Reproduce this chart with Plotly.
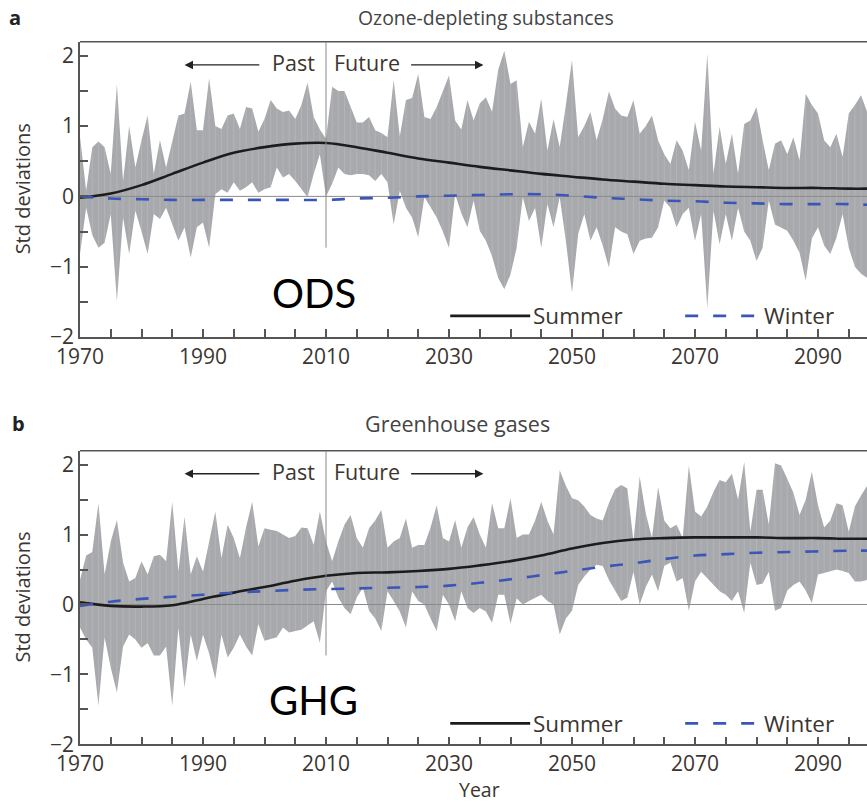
import plotly.graph_objects as go

# ---------------- data ----------------
years = list(range(1970, 2099))

ods_upper = [0.85, 0.08, 0.7, 0.78, 0.7, 0.32, 1.6, 0.22, 1.0, 0.41,
             0.8, 1.15, 0.32, 0.8, 0.41, 0.8, 1.15, 1.18, 1.63, 0.94,
             0.94, 1.68, 1.0, 0.96, 1.15, 1.18, 0.96, 1.27, 1.25, 0.92,
             1.1, 1.37, 1.25, 1.2, 1.22, 1.1, 1.3, 1.62, 1.13, 0.95,
             0.82, 1.56, 1.5, 1.5, 1.28, 1.05, 1.05, 1.13, 0.94, 0.9,
             0.84, 1.66, 0.85, 1.37, 1.4, 1.74, 1.13, 1.1, 1.27, 1.5,
             1.72, 1.08, 0.95, 1.37, 1.08, 1.32, 1.41, 1.2, 1.8, 2.07,
             1.6, 1.65, 0.7, 1.06, 0.89, 1.39, 0.65, 1.1, 0.7, 1.3,
             1.94, 0.84, 1.0, 1.2, 0.8, 1.1, 1.49, 1.25, 1.15, 1.13,
             1.37, 0.89, 1.0, 1.15, 0.8, 0.6, 0.46, 0.8, 0.65, 0.37,
             1.06, 0.65, 2.03, 0.32, 0.99, 0.46, 0.89, 0.32, 1.03, 1.08,
             1.27, 0.8, 0.37, 0.75, 0.8, 0.6, 0.84, 0.51, 1.46, 1.3,
             1.18, 0.8, 0.7, 0.89, 0.56, 1.18, 1.3, 1.44, 1.2]
ods_lower = [-0.82, -0.16, -0.55, -0.73, -0.66, -0.25, -1.49, -0.3, -0.82, -0.2,
             -0.5, -0.82, -0.25, -0.32, -0.16, -0.4, -0.63, -0.44, -0.87, -0.44,
             -0.37, -0.73, 0.03, 0.1, 0.05, 0.2, 0.08, 0.13, 0.2, 0.05,
             0.1, 0.13, 0.41, 0.27, 0.32, 0.22, 0.1, -0.01, 0.32, 0.6,
             0.0, 0.18, 0.41, 0.32, 0.3, 0.32, 0.32, 0.3, 0.22, 0.32,
             0.2, -0.4, 0.08, -0.16, -0.3, -0.58, -0.01, -0.16, -0.3, -0.5,
             -0.73, 0.03, -0.24, -0.44, -0.06, -0.49, -0.63, -0.85, -1.16, -1.32,
             -1.11, -0.73, -0.01, -0.35, -0.16, -0.73, -0.11, -0.44, -0.01, -0.63,
             -1.37, -0.54, -0.25, -0.63, -0.44, -0.7, -1.01, -0.44, -0.5, -0.54,
             -0.82, -0.63, -0.6, -0.59, -0.44, -0.06, -0.16, -0.44, -0.25, -0.16,
             -0.63, -0.25, -1.59, -0.2, -0.68, -0.25, -0.63, -0.16, -0.5, -0.63,
             -0.92, -0.73, -0.06, -0.4, -0.44, -0.49, -0.63, -0.8, -1.2, -0.6,
             -0.44, -0.7, -0.82, -0.59, -0.25, -0.73, -1.0, -1.1, -1.16]

ghg_upper = [0.35, 0.7, 0.75, 1.45, 0.43, 0.9, 1.21, 0.6, 0.33, 0.38,
             0.62, 0.43, 0.69, 0.71, 0.62, 1.47, 0.47, 1.26, 0.43, 0.69,
             0.47, 0.9, 1.33, 0.66, 1.14, 0.95, 0.66, 1.1, 1.47, 0.83,
             1.09, 1.07, 1.05, 1.0, 0.95, 0.98, 1.1, 1.09, 0.85, 1.33,
             0.9, 0.62, 0.9, 1.14, 1.28, 0.95, 0.81, 1.09, 1.2, 1.35,
             0.81, 0.9, 0.95, 1.23, 0.81, 0.85, 0.85, 1.1, 1.42, 0.95,
             0.9, 1.21, 0.81, 1.1, 1.25, 1.0, 0.81, 1.45, 1.09, 1.09,
             1.52, 0.95, 1.0, 1.0, 1.2, 1.47, 1.2, 1.0, 1.92, 1.7,
             1.52, 1.49, 1.4, 1.28, 1.23, 1.2, 1.45, 1.65, 1.71, 1.66,
             0.9, 1.83, 1.3, 0.95, 1.68, 1.2, 1.09, 1.14, 0.95, 1.99,
             1.33, 1.26, 1.4, 1.61, 1.78, 1.75, 1.87, 1.5, 2.04, 1.04,
             1.64, 1.64, 1.14, 2.02, 1.99, 1.8, 1.6, 1.28, 1.5, 1.9,
             1.42, 1.1, 1.2, 1.45, 1.42, 1.04, 1.4, 1.56, 1.7]
ghg_lower = [-0.33, -0.5, -0.62, -1.45, -0.47, -0.9, -1.26, -0.6, -0.43, -0.5,
             -0.62, -0.55, -0.73, -0.73, -0.6, -1.45, -0.33, -1.19, -0.43, -0.81,
             -0.43, -0.7, -1.07, -0.43, -0.76, -0.62, -0.43, -0.6, -0.73, -0.28,
             -0.52, -0.5, -0.47, -0.33, -0.4, -0.38, -0.36, -0.3, -0.24, -0.55,
             0.19, 0.33, 0.1, -0.05, -0.14, 0.1, 0.24, -0.09, -0.2, -0.38,
             0.19, 0.05, -0.1, -0.33, 0.19, 0.05, 0.0, -0.2, -0.38, 0.14,
             0.0, -0.24, 0.19, -0.05, -0.12, -0.05, -0.1, -0.26, 0.14, 0.14,
             -0.28, 0.09, 0.0, 0.05, 0.1, 0.14, 0.05, 0.0, -0.43, -0.2,
             -0.09, 0.28, 0.4, 0.5, 0.57, 0.55, 0.35, 0.19, 0.05, 0.1,
             0.47, 0.0, 0.25, 0.43, 0.19, 0.55, 0.6, 0.33, 0.38, -0.09,
             0.33, 0.47, 0.38, 0.28, 0.19, 0.14, 0.05, 0.19, -0.12, 0.6,
             0.28, 0.3, 0.47, -0.09, -0.05, 0.2, 0.28, 0.33, 0.2, 0.02,
             0.43, 0.45, 0.48, 0.5, 0.48, 0.45, 0.33, 0.33, 0.35]

mean_years = [1970, 1975, 1980, 1985, 1990, 1995, 2000, 2005, 2010, 2015, 2020,
              2025, 2030, 2035, 2040, 2045, 2050, 2055, 2060, 2065, 2070, 2075,
              2080, 2085, 2090, 2095, 2098]
ods_summer = [-0.02, 0.04, 0.16, 0.32, 0.48, 0.62, 0.70, 0.75, 0.76, 0.70, 0.62,
              0.54, 0.48, 0.42, 0.37, 0.32, 0.28, 0.24, 0.21, 0.18, 0.16, 0.14,
              0.13, 0.12, 0.12, 0.11, 0.11]
ods_winter = [0.0, -0.03, -0.04, -0.05, -0.05, -0.05, -0.05, -0.05, -0.05, -0.03, -0.02,
              0.0, 0.01, 0.02, 0.03, 0.03, 0.01, -0.02, -0.04, -0.06, -0.07, -0.09,
              -0.1, -0.11, -0.11, -0.11, -0.12]
ghg_summer = [0.03, -0.02, -0.03, -0.01, 0.08, 0.17, 0.25, 0.34, 0.41, 0.45, 0.46,
              0.48, 0.51, 0.56, 0.62, 0.70, 0.80, 0.88, 0.93, 0.95, 0.96, 0.96,
              0.96, 0.95, 0.95, 0.94, 0.94]
ghg_winter = [-0.02, 0.04, 0.08, 0.11, 0.14, 0.17, 0.19, 0.21, 0.22, 0.23, 0.24,
              0.25, 0.27, 0.31, 0.36, 0.42, 0.48, 0.54, 0.59, 0.65, 0.70, 0.72,
              0.74, 0.75, 0.76, 0.77, 0.77]

panels = [
    dict(title="Ozone-depleting substances", letter="a", label="ODS",
         upper=ods_upper, lower=ods_lower, summer=ods_summer, winter=ods_winter),
    dict(title="Greenhouse gases", letter="b", label="GHG",
         upper=ghg_upper, lower=ghg_lower, summer=ghg_summer, winter=ghg_winter),
]

x_ticks = list(range(1970, 2100, 5))
x_labels = [str(v) if (v - 1970) % 20 == 0 else "" for v in x_ticks]
y_ticks = [-2, -1.5, -1, -0.5, 0, 0.5, 1, 1.5, 2]
y_labels = ["\u22122", "", "\u22121", "", "0", "", "1", "", "2"]

# ---------------- styling ----------------
W, H = 867, 804
BAND = "#a8a9ac"
AXC = "#555555"
TXT = "#3b3630"
FONT = "Open Sans"
XR = [1970, 1970 + 787 / 6.15]
YR = [-2, 2.2]
domains_y = [(1 - 337 / H, 1 - 41.7 / H), (1 - 744.3 / H, 1 - 450.7 / H)]
x_left = 80 / W

fig = go.Figure()
shapes, annotations = [], []

for i, p in enumerate(panels):
    xa = "x" if i == 0 else "x2"
    ya = "y" if i == 0 else "y2"
    # band
    fig.add_trace(go.Scatter(x=years, y=p["lower"], xaxis=xa, yaxis=ya, mode="lines",
                             line=dict(width=0, color=BAND), hoverinfo="skip", showlegend=False))
    fig.add_trace(go.Scatter(x=years, y=p["upper"], xaxis=xa, yaxis=ya, mode="lines",
                             line=dict(width=0, color=BAND), fill="tonexty", fillcolor=BAND,
                             hoverinfo="skip", showlegend=False))
    # faint white striping inside the band
    sx, sy = [], []
    for yr, lo, hi in zip(years, p["lower"], p["upper"]):
        sx += [yr, yr, None]
        sy += [lo, hi, None]
    fig.add_trace(go.Scatter(x=sx, y=sy, xaxis=xa, yaxis=ya, mode="lines",
                             line=dict(width=1, color="rgba(255,255,255,0.14)"),
                             hoverinfo="skip", showlegend=False))
    # zero line
    fig.add_trace(go.Scatter(x=[years[0], years[-1]], y=[0, 0], xaxis=xa, yaxis=ya, mode="lines",
                             line=dict(width=1, color="#8a8a8a"), hoverinfo="skip", showlegend=False))
    # means
    fig.add_trace(go.Scatter(x=mean_years, y=p["summer"], xaxis=xa, yaxis=ya, mode="lines",
                             line=dict(width=2.6, color="#1c1c1c", shape="spline", smoothing=1.0),
                             name="Summer", showlegend=False))
    fig.add_trace(go.Scatter(x=mean_years, y=p["winter"], xaxis=xa, yaxis=ya, mode="lines",
                             line=dict(width=2.6, color="#3a56b8", dash="13px,15px",
                                       shape="spline", smoothing=1.0),
                             name="Winter", showlegend=False))

    y0, y1 = domains_y[i]
    # top border
    shapes.append(dict(type="line", xref="paper", yref="paper", x0=x_left, x1=1.0,
                       y0=y1, y1=y1, line=dict(color=AXC, width=1.5)))
    # past/future divider
    shapes.append(dict(type="line", xref=xa, yref=ya, x0=2010, x1=2010, y0=-0.73, y1=YR[1],
                       line=dict(color="#8a8a8a", width=1), layer="above"))
    # legend samples
    shapes.append(dict(type="line", xref=xa, yref=ya, x0=2030.2, x1=2043.2, y0=-1.7, y1=-1.7,
                       line=dict(color="#1c1c1c", width=2.6)))
    shapes.append(dict(type="line", xref=xa, yref=ya, x0=2068.4, x1=2080.1, y0=-1.7, y1=-1.7,
                       line=dict(color="#3a56b8", width=2.6, dash="13px,15px")))
    annotations.append(dict(x=2043.3, y=-1.7, xref=xa, yref=ya, text="Summer", showarrow=False,
                            xanchor="left", yanchor="middle", font=dict(size=22.5, color=TXT, family=FONT)))
    annotations.append(dict(x=2080.9, y=-1.7, xref=xa, yref=ya, text="Winter", showarrow=False,
                            xanchor="left", yanchor="middle", font=dict(size=22.5, color=TXT, family=FONT)))
    # past / future
    annotations.append(dict(x=2008.6, y=1.9, xref=xa, yref=ya, text="Past", showarrow=False,
                            xanchor="right", yanchor="middle", font=dict(size=21.5, color=TXT, family=FONT)))
    annotations.append(dict(x=2011.0, y=1.9, xref=xa, yref=ya, text="Future", showarrow=False,
                            xanchor="left", yanchor="middle", font=dict(size=21.5, color=TXT, family=FONT)))
    annotations.append(dict(x=1987, y=1.87, ax=1999.4, ay=1.87, xref=xa, yref=ya, axref=xa, ayref=ya,
                            text="", showarrow=True, arrowhead=2, arrowsize=1.3, arrowwidth=1.3,
                            arrowcolor="#222222"))
    annotations.append(dict(x=2035.6, y=1.87, ax=2023.6, ay=1.87, xref=xa, yref=ya, axref=xa, ayref=ya,
                            text="", showarrow=True, arrowhead=2, arrowsize=1.3, arrowwidth=1.3,
                            arrowcolor="#222222"))
    # big label
    annotations.append(dict(x=2008, y=-1.37, xref=xa, yref=ya, text=p["label"], showarrow=False,
                            xanchor="center", yanchor="middle",
                            font=dict(size=40, color="#000000", family="Lato")))
    # panel title and letter
    title_y = (17 if i == 0 else 423)
    title_x = (486 if i == 0 else 457)
    title_size = (19.4 if i == 0 else 21.5)
    annotations.append(dict(x=title_x / W, y=1 - title_y / H, xref="paper", yref="paper",
                            text=p["title"], showarrow=False, xanchor="center", yanchor="middle",
                            font=dict(size=title_size, color="#444444", family=FONT)))
    annotations.append(dict(x=(15 if i == 0 else 18) / W, y=1 - title_y / H, xref="paper", yref="paper",
                            text="<b>" + p["letter"] + "</b>", showarrow=False, xanchor="center",
                            yanchor="middle", font=dict(size=20, color="#222222", family=FONT)))
    # y title
    annotations.append(dict(x=22 / W, y=(y0 + y1) / 2, xref="paper", yref="paper",
                            text="Std deviations", showarrow=False, textangle=-90,
                            xanchor="center", yanchor="middle",
                            font=dict(size=20, color=TXT, family=FONT)))

annotations.append(dict(x=2034.9, y=1 - 789 / H, xref="x2", yref="paper", text="Year",
                        showarrow=False, xanchor="center", yanchor="middle",
                        font=dict(size=19.5, color=TXT, family=FONT)))

xaxis_common = dict(range=XR, tickmode="array", tickvals=x_ticks, ticktext=x_labels,
                    ticks="inside", ticklen=8, tickwidth=1.5, tickcolor=AXC, automargin=False,
                    showline=True, linecolor=AXC, linewidth=1.5, showgrid=False, zeroline=False,
                    tickfont=dict(size=21, color=TXT, family=FONT), domain=[x_left, 1.0])
yaxis_common = dict(range=YR, tickmode="array", tickvals=y_ticks, ticktext=y_labels,
                    ticks="inside", ticklen=8, tickwidth=1.5, tickcolor=AXC, automargin=False,
                    showline=True, linecolor=AXC, linewidth=1.5, showgrid=False, zeroline=False,
                    tickfont=dict(size=21, color=TXT, family=FONT))

fig.update_layout(
    width=W, height=H, margin=dict(l=0, r=0, t=0, b=0, autoexpand=False),
    paper_bgcolor="white", plot_bgcolor="white", showlegend=False,
    xaxis=dict(**xaxis_common, anchor="y"),
    yaxis=dict(**yaxis_common, anchor="x", domain=list(domains_y[0])),
    xaxis2=dict(**xaxis_common, anchor="y2"),
    yaxis2=dict(**yaxis_common, anchor="x2", domain=list(domains_y[1])),
    shapes=shapes, annotations=annotations,
)

fig.write_html("out.html", config={"displayModeBar": False},
               post_script="document.body.style.margin='0px';document.body.style.overflow='hidden';")
